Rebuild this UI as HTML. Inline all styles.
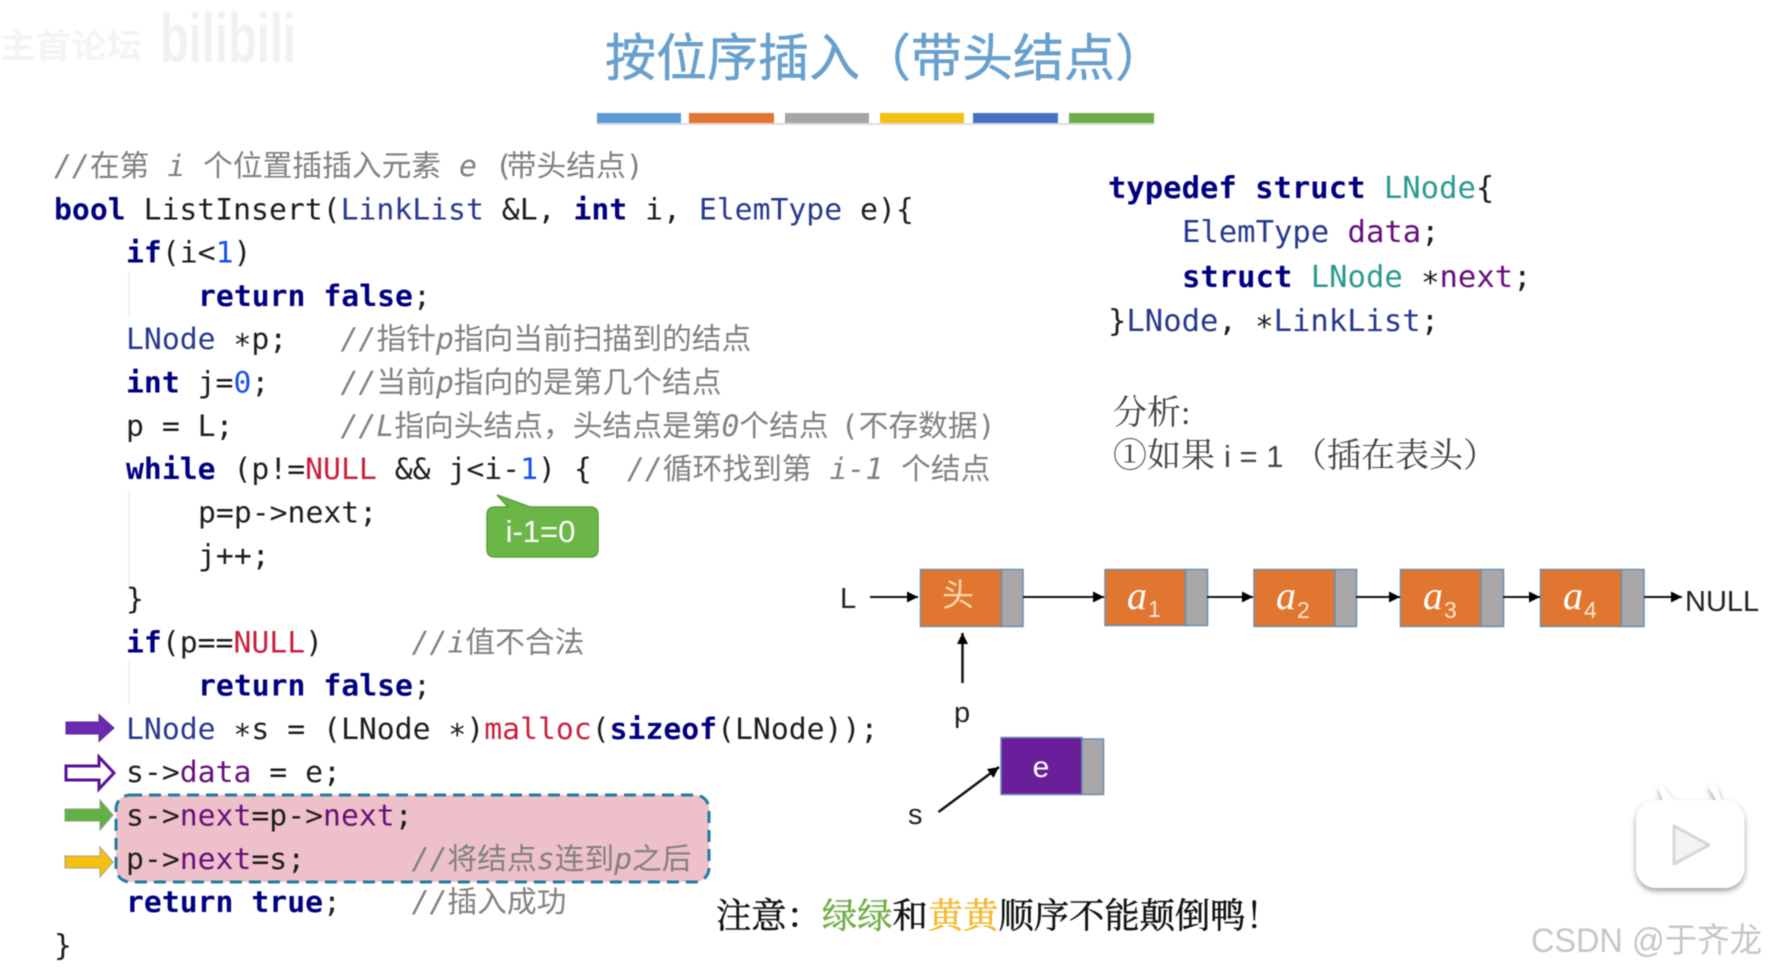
<!DOCTYPE html>
<html><head><meta charset="utf-8"><style>
html,body{margin:0;padding:0;background:#fff;width:1768px;height:970px;overflow:hidden}
svg{display:block;filter:blur(.6px)}
text{white-space:pre}
.m{font-family:"DejaVu Sans Mono","Noto Sans CJK SC",monospace;font-size:29.75px;fill:#1c1c1c}
.r{font-size:30.55px}
.k{font-weight:bold;fill:#000080}
.t{fill:#27388c}
.n{fill:#1750eb}
.e{fill:#c8203c}
.v{fill:#660e7a}
.c{fill:#808080}
.i{font-style:italic}
.teal{fill:#2a9a90}
.s{font-family:"Liberation Sans","Noto Sans CJK SC",sans-serif;font-size:29px;fill:#222}
.a{font-family:"Liberation Serif",serif;font-style:italic;font-size:40px;fill:#fff}
.b{font-family:"Liberation Sans",sans-serif;font-size:23px;fill:#fde6d2}
.z{font-family:"Liberation Serif","Noto Serif CJK SC",serif;font-size:34px;fill:#444}
</style></head><body>
<svg width="1768" height="970" viewBox="0 0 1768 970" xmlns="http://www.w3.org/2000/svg">
<defs>
<marker id="ah" markerUnits="userSpaceOnUse" markerWidth="12" markerHeight="12" refX="11" refY="6" orient="auto"><path d="M0 0.5L11 6L0 11.5z" fill="#000"/></marker>
<filter id="sh" x="-20%" y="-20%" width="140%" height="140%"><feDropShadow dx="0" dy="3" stdDeviation="3" flood-color="#000" flood-opacity=".38"/></filter>
</defs>
<rect width="1768" height="970" fill="#fff"/>

<!-- watermark top-left -->
<text x="0" y="58" textLength="142" lengthAdjust="spacingAndGlyphs" font-family="Noto Sans CJK SC,sans-serif" font-size="34" font-weight="700" fill="#f4f4f4">主首论坛</text>
<text x="160" y="62" textLength="136" lengthAdjust="spacingAndGlyphs" font-family="Liberation Sans,sans-serif" font-size="70" font-weight="700" fill="#f1f1f1">bilibili</text>

<!-- title -->
<text x="605" y="76" font-family="Noto Sans CJK SC,sans-serif" font-size="51" fill="#68a0cd" stroke="#68a0cd" stroke-width=".5">按位序插入（带头结点）</text>
<g>
<rect x="597" y="113" width="84" height="10" fill="#5b9bd5"/>
<rect x="689" y="113" width="85" height="10" fill="#e0762f"/>
<rect x="785" y="113" width="84" height="10" fill="#a5a5a5"/>
<rect x="880" y="113" width="84" height="10" fill="#f5c010"/>
<rect x="973" y="113" width="85" height="10" fill="#4472c4"/>
<rect x="1069" y="113" width="85" height="10" fill="#70ad47"/>
</g>
<rect x="597" y="123" width="557" height="2" fill="#ddd"/>

<!-- indent guides -->
<path d="M129 272V318M129 490V590M129 660V705" stroke="#eeeeee" stroke-width="1.5" fill="none"/>

<!-- highlight -->
<rect x="116" y="795" width="593" height="87" rx="14" fill="#eec0c9" stroke="#1f7d9e" stroke-width="3" stroke-dasharray="12 7"/>

<!-- code -->
<g class="m" transform="translate(0,1)">
<text class="m c" x="54" y="175"><tspan class="i">//</tspan>在第 <tspan class="i">i</tspan> 个位置插插入元素 <tspan class="i">e</tspan> (<tspan dx="-6">带头结点</tspan>)</text>
<text class="m" x="54" y="218.3"><tspan class="k">bool</tspan> ListInsert(<tspan class="t">LinkList</tspan> &amp;L, <tspan class="k">int</tspan> i, <tspan class="t">ElemType</tspan> e){</text>
<text class="m" x="126" y="261.6"><tspan class="k">if</tspan>(i&lt;<tspan class="n">1</tspan>)</text>
<text class="m k" x="198" y="304.9">return false<tspan fill="#222" font-weight="normal">;</tspan></text>
<text class="m" x="126" y="348.2"><tspan class="t">LNode</tspan> ∗p;</text>
<text class="m c" x="340.5" y="348.2"><tspan class="i">//</tspan>指针<tspan class="i">p</tspan>指向当前扫描到的结点</text>
<text class="m" x="126" y="391.5"><tspan class="k">int</tspan> j=<tspan class="n">0</tspan>;</text>
<text class="m c" x="340.5" y="391.5"><tspan class="i">//</tspan>当前<tspan class="i">p</tspan>指向的是第几个结点</text>
<text class="m" x="126" y="434.8">p = L;</text>
<text class="m c" x="340.5" y="434.8"><tspan class="i">//L</tspan>指向头结点，头结点是第<tspan class="i">0</tspan>个结点<tspan dx="12">(不存数据)</tspan></text>
<text class="m" x="126" y="478.1"><tspan class="k">while</tspan> (p!=<tspan class="e">NULL</tspan> &amp;&amp; j&lt;i-<tspan class="n">1</tspan>) {</text>
<text class="m c" x="627" y="478.1"><tspan class="i">//</tspan>循环找到第 <tspan class="i">i-1</tspan> 个结点</text>
<text class="m" x="198" y="521.4">p=p-&gt;next;</text>
<text class="m" x="198" y="564.7">j++;</text>
<text class="m" x="126" y="608">}</text>
<text class="m" x="126" y="651.3"><tspan class="k">if</tspan>(p==<tspan class="e">NULL</tspan>)</text>
<text class="m c" x="411.6" y="651.3"><tspan class="i">//i</tspan>值不合法</text>
<text class="m k" x="198" y="694.6">return false<tspan fill="#222" font-weight="normal">;</tspan></text>
<text class="m" x="126" y="737.9"><tspan class="t">LNode</tspan> ∗s = (LNode ∗)<tspan class="e">malloc</tspan>(<tspan class="k">sizeof</tspan>(LNode));</text>
<text class="m" x="126" y="781.2">s-&gt;<tspan class="v">data</tspan> = e;</text>
<text class="m" x="126" y="824.5">s-&gt;<tspan class="v">next</tspan>=p-&gt;<tspan class="v">next</tspan>;</text>
<text class="m" x="126" y="867.8">p-&gt;<tspan class="v">next</tspan>=s;</text>
<text class="m c" x="411.6" y="867.8"><tspan class="i">//</tspan>将结点<tspan class="i">s</tspan>连到<tspan class="i">p</tspan>之后</text>
<text class="m k" x="126" y="911.1">return true<tspan fill="#222" font-weight="normal">;</tspan></text>
<text class="m c" x="411.6" y="911.1"><tspan class="i">//</tspan>插入成功</text>
<text class="m" x="54" y="954.4">}</text>
</g>

<!-- callout -->
<path d="M497 495L530 507H590Q598 507 598 515V549Q598 557 590 557H495Q487 557 487 549V515Q487 507 495 507H508z" fill="#6cb648" stroke="#5a9e3a" stroke-width="1.5"/>
<text x="540.500" y="542" text-anchor="middle" font-family="Liberation Sans,sans-serif" font-size="31" fill="#fff">i-1=0</text>

<!-- side arrows -->
<path d="M66 722H99V714.500L114 728L99 741.500V734H66z" fill="#6a2bb0" stroke="#5a2a9c"/>
<path d="M66 766H99V757L114 773L99 789V780H66z" fill="#fff" stroke="#5a0f9a" stroke-width="3"/>
<path d="M65 809H100V800L113 815L100 830V821H65z" fill="#63b046" stroke="#8aa07a"/>
<path d="M65 856H100V847L113 862L100 877V868H65z" fill="#f5c010" stroke="#a8a080"/>

<!-- struct -->
<text class="m r" x="1108" y="198"><tspan class="k">typedef struct</tspan> <tspan class="teal">LNode</tspan>{</text>
<text class="m r" x="1182" y="242"><tspan class="t">ElemType</tspan> <tspan class="v">data</tspan>;</text>
<text class="m r" x="1182" y="287"><tspan class="k">struct</tspan> <tspan class="teal">LNode</tspan> ∗<tspan class="v">next</tspan>;</text>
<text class="m r" x="1108" y="331">}<tspan class="t">LNode</tspan>, ∗<tspan class="t">LinkList</tspan>;</text>

<!-- analysis -->
<text class="z" x="1113" y="424">分析:</text>
<text class="z" x="1113" y="467">①如果</text>
<text x="1224" y="467" font-family="Liberation Sans,sans-serif" font-size="31" fill="#444">i = 1</text>
<text class="z" x="1293" y="467">（插在表头）</text>

<!-- nodes -->
<g stroke="#6a8fb0" stroke-width="1.5">
<rect x="920.500" y="569.500" width="81" height="57" fill="#e0762f"/><rect x="1001.500" y="569.500" width="21.500" height="57" fill="#a9a7a9"/>
<rect x="1105" y="569.500" width="80.500" height="56" fill="#e0762f"/><rect x="1185.500" y="569.500" width="22" height="56" fill="#a9a7a9"/>
<rect x="1254" y="569.500" width="81" height="57" fill="#e0762f"/><rect x="1335" y="569.500" width="21.500" height="57" fill="#a9a7a9"/>
<rect x="1400.500" y="569.500" width="80.500" height="57" fill="#e0762f"/><rect x="1481" y="569.500" width="22.500" height="57" fill="#a9a7a9"/>
<rect x="1540.500" y="569.500" width="81" height="57" fill="#e0762f"/><rect x="1621.500" y="569.500" width="22.500" height="57" fill="#a9a7a9"/>
<rect x="1001" y="737.500" width="81" height="57" fill="#6a1f9a"/><rect x="1082" y="739" width="21.500" height="55.500" fill="#a9a7a9"/>
</g>
<text x="958" y="606" text-anchor="middle" font-family="Noto Sans CJK SC,sans-serif" font-size="32" fill="#fbd9b0">头</text>
<text class="a" x="1127" y="609">a</text><text class="b" x="1148" y="617">1</text>
<text class="a" x="1276" y="609">a</text><text class="b" x="1297" y="618">2</text>
<text class="a" x="1423" y="609">a</text><text class="b" x="1444" y="618">3</text>
<text class="a" x="1563" y="609">a</text><text class="b" x="1584" y="618">4</text>
<text x="1041" y="777" text-anchor="middle" font-family="Liberation Sans,sans-serif" font-size="30" fill="#fff">e</text>

<!-- connectors -->
<g stroke="#111" stroke-width="2" fill="none">
<line x1="870" y1="597" x2="918" y2="597" marker-end="url(#ah)"/>
<line x1="1023" y1="597" x2="1104" y2="597" marker-end="url(#ah)"/>
<line x1="1207" y1="597" x2="1253" y2="597" marker-end="url(#ah)"/>
<line x1="1356" y1="597" x2="1400" y2="597" marker-end="url(#ah)"/>
<line x1="1503" y1="597" x2="1540" y2="597" marker-end="url(#ah)"/>
<line x1="1644" y1="597" x2="1682" y2="597" marker-end="url(#ah)"/>
<line x1="962.500" y1="683" x2="962.500" y2="633" marker-end="url(#ah)" stroke-width="2.5"/>
<line x1="938.500" y1="812" x2="999" y2="767" marker-end="url(#ah)" stroke-width="2.5"/>
</g>
<text class="s" x="840" y="608">L</text>
<text class="s" x="1685" y="611">NULL</text>
<text class="s" x="954" y="722">p</text>
<text class="s" x="908" y="824">s</text>

<!-- note -->
<text x="716" y="928" font-family="Noto Serif CJK SC,serif" font-size="35.300" fill="#111" stroke="#111" stroke-width=".5">注意：<tspan fill="#70ad47" stroke="#70ad47">绿绿</tspan>和<tspan fill="#f5b82e" stroke="#f5b82e">黄黄</tspan>顺序不能颠倒鸭！</text>

<!-- bilibili badge -->
<g filter="url(#sh)">
<path d="M1664 803L1659 790Q1658 785 1663 786L1676 803zM1718 803L1708 786Q1713 783 1718 788L1722 803z" fill="#fff"/>
<rect x="1636" y="800" width="108.500" height="88" rx="20" fill="#fff"/>
</g>
<path d="M1674 826L1709 845L1674 864z" fill="#f3f3f3" stroke="#d8d8d8" stroke-width="3" stroke-linejoin="round"/>

<!-- CSDN -->
<text x="1531" y="952" textLength="231" lengthAdjust="spacingAndGlyphs" font-family="Liberation Sans,Noto Sans CJK SC,sans-serif" font-size="34" fill="#c6c6c6">CSDN @于齐龙</text>
</svg>
</body></html>
